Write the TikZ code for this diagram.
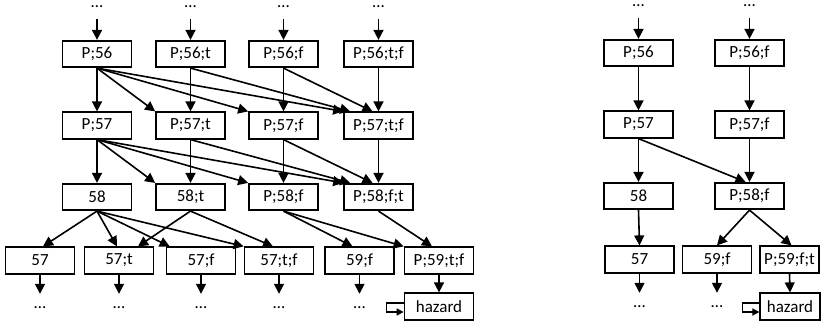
\documentclass[tikz,border=0pt]{standalone}
\usepackage{fontspec}
\setmainfont{Carlito}
\usetikzlibrary{arrows.meta}
\begin{document}
\begin{tikzpicture}[x=1pt,y=-1pt,
  box/.style={draw, line width=1.7pt, minimum width=69pt, minimum height=26.5pt, inner sep=0pt, font=\fontsize{17}{20}\selectfont},
  arr/.style={line width=1.6pt, -{Triangle[length=10pt,width=10pt]}},
  dts/.style={inner xsep=0pt, inner ysep=1pt, text height=3pt, text depth=0pt, font=\fontsize{17}{20}\selectfont},
  lp/.style={line width=1.6pt, -{Triangle[length=7pt,width=7pt]}}]
\useasboundingbox (0,0) rectangle (824,321);
% ---------- left graph ----------
\node[box] (a1) at (97,54) {P;56};
\node[box] (a2) at (190.5,54) {P;56;t};
\node[box] (a3) at (283.5,54) {P;56;f};
\node[box] (a4) at (378.5,54) {P;56;t;f};
\node[box] (b1) at (97,125.5) {P;57};
\node[box] (b2) at (190.5,125.5) {P;57;t};
\node[box] (b3) at (283.5,125.5) {P;57;f};
\node[box] (b4) at (378.5,125.5) {P;57;t;f};
\node[box] (c1) at (97,197) {58};
\node[box] (c2) at (190.5,197) {58;t};
\node[box] (c3) at (283.5,197) {P;58;f};
\node[box] (c4) at (378.5,197) {P;58;f;t};
\node[box] (d1) at (40,260.5) {57};
\node[box] (d2) at (119,260.5) {57;t};
\node[box] (d3) at (201,260.5) {57;f};
\node[box] (d4) at (279,260.5) {57;t;f};
\node[box] (d5) at (359.5,260.5) {59;f};
\node[box] (d6) at (439,260.5) {P;59;t;f};
\node[box] (hz1) at (439,306.5) {hazard};
\foreach \n/\x in {t1/97,t2/190.5,t3/283.5,t4/378.5}
  \node[dts, anchor=base] (\n) at (\x,8) {…};
\foreach \n/\x in {e1/40,e2/119,e3/201,e4/279,e5/359.5}
  \node[dts, anchor=base] (\n) at (\x,308) {…};
\foreach \s/\t in {t1/a1,t2/a2,t3/a3,t4/a4}
  \draw[arr, shorten <=10pt] (\s.south) -- (\t.north);
% row 1 -> row 2 and row 2 -> row 3
\foreach \u/\v in {a/b,b/c}{
  \draw[arr] (\u1.south) -- (\v1.north);
  \draw[arr] (\u1.south) -- (\v2.north west);
  \draw[arr] (\u1.south) -- (\v3.north west);
  \draw[arr] (\u1.south) -- (\v4.north west);
  \draw[arr] (\u2.south) -- (\v2.north);
  \draw[arr] (\u2.south) -- ([xshift=7pt]\v4.north west);
  \draw[arr] (\u3.south) -- (\v3.north);
  \draw[arr] (\u3.south) -- ([xshift=-6pt]\v4.north);
  \draw[arr] (\u4.south) -- (\v4.north);
}
% row 3 -> row 4
\draw[arr] (c1.south) -- ([xshift=3pt]d1.north);
\draw[arr] (c1.south) -- ([xshift=-2pt]d2.north);
\draw[arr] (c1.south) -- ([xshift=4pt]d3.north west);
\draw[arr] (c1.south) -- (d4.north west);
\draw[arr] (c2.south) -- ([xshift=19pt]d2.north);
\draw[arr] (c2.south) -- ([xshift=-6pt]d4.north);
\draw[arr] (c3.south) -- ([xshift=-7pt]d5.north);
\draw[arr] (c3.south) -- (d6.north west);
\draw[arr] (c4.south) -- ([xshift=-7pt]d6.north);
\foreach \s/\t in {d1/e1,d2/e2,d3/e3,d4/e4,d5/e5}
  \draw[arr, shorten >=10pt] (\s.south) -- (\t.north);
\draw[arr] (d6.south) -- (hz1.north);
\draw[lp] ([yshift=3.5pt]hz1.west) -- ++(-17,0) |- ([yshift=-5.5pt]hz1.west);
% ---------- right graph ----------
\node[box] (ra1) at (638.5,53) {P;56};
\node[box] (ra2) at (749.5,53) {P;56;f};
\node[box] (rb1) at (638.5,124.5) {P;57};
\node[box] (rb2) at (749.5,124.5) {P;57;f};
\node[box] (rc1) at (638.5,196) {58};
\node[box] (rc2) at (749.5,196) {P;58;f};
\node[box] (rd1) at (639.5,259.5) {57};
\node[box] (rd2) at (717,259.5) {59;f};
\node[box, minimum width=59.5pt] (rd3) at (789.5,259.5) {P;59;f;t};
\node[box, minimum width=59.5pt] (hz2) at (790,306.5) {hazard};
\node[dts, anchor=base] (rt1) at (638.5,7) {…};
\node[dts, anchor=base] (rt2) at (749.5,7) {…};
\node[dts, anchor=base] (re1) at (639.5,307) {…};
\node[dts, anchor=base] (re2) at (717,307) {…};
\draw[arr, shorten <=10pt] (rt1.south) -- (ra1.north);
\draw[arr, shorten <=10pt] (rt2.south) -- (ra2.north);
\draw[arr] (ra1.south) -- (rb1.north);
\draw[arr] (ra2.south) -- (rb2.north);
\draw[arr] (rb1.south) -- (rc1.north);
\draw[arr] (rb1.south) -- ([xshift=-4pt]rc2.north);
\draw[arr] (rb2.south) -- (rc2.north);
\draw[arr] (rc1.south) -- (rd1.north);
\draw[arr] (rc2.south) -- (rd2.north);
\draw[arr] (rc2.south) -- ([xshift=2pt]rd3.north);
\draw[arr, shorten >=10pt] (rd1.south) -- (re1.north);
\draw[arr, shorten >=10pt] (rd2.south) -- (re2.north);
\draw[arr] (rd3.south) -- (hz2.north);
\draw[lp] ([yshift=3.5pt]hz2.west) -- ++(-17,0) |- ([yshift=-5.5pt]hz2.west);
\end{tikzpicture}
\end{document}
